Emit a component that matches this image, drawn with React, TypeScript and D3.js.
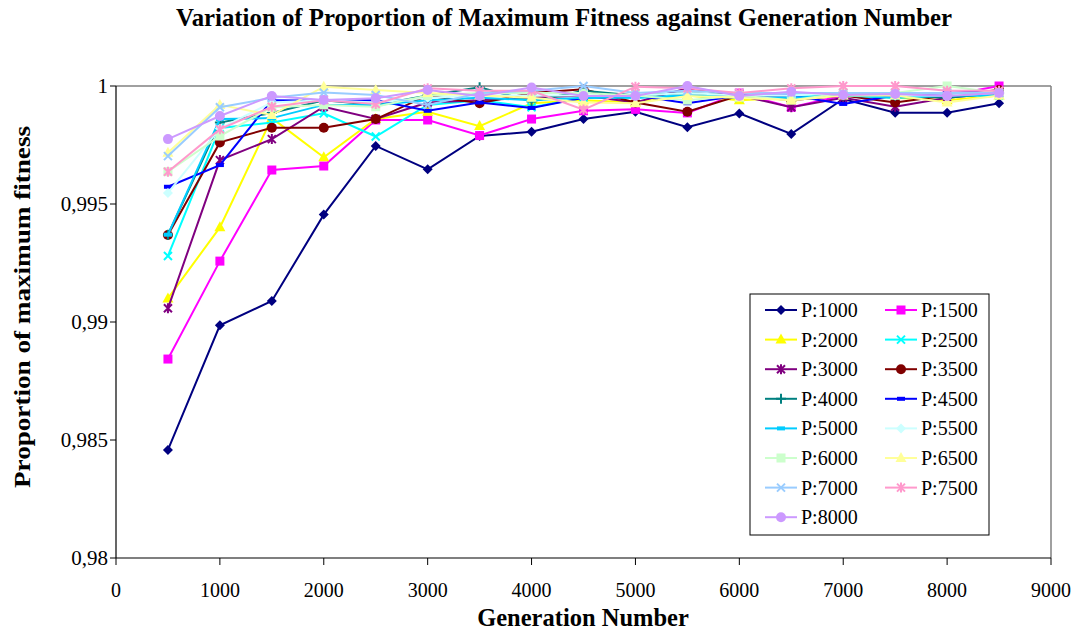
import React from "react";
import * as d3 from "d3";

// Generation numbers sampled for every population size
const generations = [500, 1000, 1500, 2000, 2500, 3000, 3500, 4000, 4500, 5000, 5500, 6000, 6500, 7000, 7500, 8000, 8500];

const seriesNames = ["P:1000", "P:1500", "P:2000", "P:2500", "P:3000", "P:3500", "P:4000", "P:4500", "P:5000", "P:5500", "P:6000", "P:6500", "P:7000", "P:7500", "P:8000"];

const p1000 = [0.98458, 0.98986, 0.99089, 0.99455, 0.99746, 0.99647, 0.99788, 0.99806, 0.9986, 0.99891, 0.99825, 0.99884, 0.99797, 0.99945, 0.99887, 0.99887, 0.99927];
const p1500 = [0.98843, 0.99258, 0.99644, 0.99661, 0.99856, 0.99856, 0.9979, 0.9986, 0.99895, 0.99901, 0.99886, 0.9997, 0.9991, 0.9996, 0.9996, 0.9996, 1.0];
const p2000 = [0.991, 0.99401, 0.99864, 0.99698, 0.9986, 0.99891, 0.9983, 0.99927, 0.9994, 0.9993, 0.9996, 0.9994, 0.9995, 0.9996, 0.9995, 0.9994, 0.9996];
const p2500 = [0.9928, 0.99822, 0.99845, 0.99884, 0.99786, 0.9992, 0.9994, 0.9991, 0.9995, 0.9995, 0.9996, 0.9995, 0.9996, 0.9996, 0.9995, 0.9996, 0.9996];
const p3000 = [0.99058, 0.99686, 0.99775, 0.99912, 0.9986, 0.9993, 0.9994, 0.9995, 0.9996, 0.9993, 0.9999, 0.9996, 0.9991, 0.9995, 0.99912, 0.9995, 0.9997];
const p3500 = [0.99369, 0.99761, 0.99823, 0.99823, 0.9986, 0.9996, 0.99927, 0.9997, 0.99986, 0.9993, 0.99891, 0.9996, 0.9994, 0.9996, 0.9993, 0.9996, 0.99983];
const p4000 = [0.9937, 0.99845, 0.99886, 0.9994, 0.9992, 0.9996, 0.99995, 0.99934, 0.9998, 0.9996, 0.9997, 0.9996, 0.9995, 0.9996, 0.9996, 0.9995, 0.9997];
const p4500 = [0.99573, 0.99665, 0.9994, 0.99938, 0.9994, 0.99895, 0.9993, 0.99907, 0.9995, 0.9996, 0.99927, 0.9996, 0.9996, 0.99924, 0.9996, 0.9997, 0.9998];
const p5000 = [0.9937, 0.9986, 0.99864, 0.9992, 0.9992, 0.9994, 0.9995, 0.9994, 0.9995, 0.9995, 0.9996, 0.9995, 0.9995, 0.9996, 0.9995, 0.9996, 0.9996];
const p5500 = [0.99547, 0.9982, 0.9993, 0.9994, 0.9993, 0.9995, 0.9996, 0.9996, 0.9996, 0.9996, 0.9997, 0.9996, 0.9996, 0.9997, 0.9996, 0.9996, 0.9997];
const p6000 = [0.99637, 0.99788, 0.9991, 0.9992, 0.99912, 0.9996, 0.9997, 0.9997, 0.9997, 0.9996, 0.9994, 0.9996, 0.9994, 0.9997, 0.9997, 1.0, 0.9997];
const p6500 = [0.99717, 0.9992, 0.99877, 0.99997, 0.99983, 0.9997, 0.9996, 0.9995, 0.9993, 0.99927, 0.99958, 0.9995, 0.9994, 0.9996, 0.9996, 0.9993, 0.9996];
const p7000 = [0.99703, 0.9991, 0.9995, 0.99972, 0.99962, 0.9992, 0.9997, 0.9998, 1.0, 0.9997, 0.9998, 0.9997, 0.9997, 0.9997, 0.9997, 0.9997, 0.9997];
const p7500 = [0.99637, 0.99817, 0.99912, 0.9994, 0.99924, 0.9999, 0.9998, 0.9998, 0.999, 0.99997, 0.9999, 0.9997, 0.9999, 1.0, 1.0, 0.9998, 0.9998];
const p8000 = [0.99775, 0.99873, 0.99958, 0.99941, 0.99948, 0.99983, 0.99958, 0.99994, 0.99958, 0.99958, 1.0, 0.99958, 0.99976, 0.99962, 0.99966, 0.99958, 0.9997];

const seriesValues = [p1000, p1500, p2000, p2500, p3000, p3500, p4000, p4500, p5000, p5500, p6000, p6500, p7000, p7500, p8000];

const colors = ["#000080", "#FF00FF", "#FFFF00", "#00FFFF", "#800080", "#800000", "#008080", "#0000FF", "#00CCFF", "#CCFFFF", "#CCFFCC", "#FFFF99", "#99CCFF", "#FF99CC", "#CC99FF"];
const markers = ["diamond", "square", "triangle", "x", "star", "circle", "plus", "dash", "dash", "diamond", "square", "triangle", "x", "star", "circle"];

const xTicks = [0, 1000, 2000, 3000, 4000, 5000, 6000, 7000, 8000, 9000];
const yTicks = [0.98, 0.985, 0.99, 0.995, 1];

const FONT = "'Liberation Serif', 'Times New Roman', serif";

function Marker({ kind, x, y, color }: { kind: string; x: number; y: number; color: string }) {
  switch (kind) {
    case "diamond":
      return <path d={`M${x},${y - 5}L${x + 5},${y}L${x},${y + 5}L${x - 5},${y}Z`} fill={color} />;
    case "square":
      return <rect x={x - 4.5} y={y - 4.5} width={9} height={9} fill={color} />;
    case "triangle":
      return <path d={`M${x},${y - 6}L${x + 5.5},${y + 4}L${x - 5.5},${y + 4}Z`} fill={color} />;
    case "x":
      return (
        <path d={`M${x - 4},${y - 4}L${x + 4},${y + 4}M${x - 4},${y + 4}L${x + 4},${y - 4}`} stroke={color} strokeWidth={2} fill="none" />
      );
    case "star":
      return (
        <path
          d={`M${x - 4},${y - 4}L${x + 4},${y + 4}M${x - 4},${y + 4}L${x + 4},${y - 4}M${x},${y - 5}L${x},${y + 5}`}
          stroke={color}
          strokeWidth={2}
          fill="none"
        />
      );
    case "circle":
      return <circle cx={x} cy={y} r={5} fill={color} />;
    case "plus":
      return <path d={`M${x - 5},${y}L${x + 5},${y}M${x},${y - 5}L${x},${y + 5}`} stroke={color} strokeWidth={2} fill="none" />;
    case "dash":
    default:
      return <rect x={x - 4} y={y - 2} width={8} height={4} fill={color} />;
  }
}

export default function App() {
  const width = 1087;
  const height = 632;
  const left = 116;
  const right = 1051;
  const top = 86;
  const bottom = 558;

  const x = d3.scaleLinear().domain([0, 9000]).range([left, right]);
  const y = d3.scaleLinear().domain([0.98, 1]).range([bottom, top]);

  const line = d3
    .line<number>()
    .x((_, i) => x(generations[i]))
    .y((v) => y(v));

  const fmtY = (v: number) => (v === 1 ? "1" : String(+v.toFixed(3)).replace(".", ","));

  // Legend layout
  const lgX = 750;
  const lgY = 294;
  const lgW = 239;
  const lgH = 241;
  const rowH = 29.6;
  const colW = 120;

  return (
    <svg width={width} height={height} style={{ position: "absolute", left: 0, top: 0, background: "#fff" }} fontFamily={FONT}>
      <rect x={0} y={0} width={width} height={height} fill="#fff" />
      <text x={564} y={26} textAnchor="middle" fontSize={24.5} fontWeight="bold" fill="#000" textLength={776} lengthAdjust="spacingAndGlyphs">
        Variation of Proportion of Maximum Fitness against Generation Number
      </text>

      {/* plot area frame */}
      <line x1={left} y1={top} x2={right} y2={top} stroke="#808080" strokeWidth={1.5} />
      <line x1={right} y1={top} x2={right} y2={bottom} stroke="#808080" strokeWidth={1.5} />

      {/* series */}
      {seriesValues.map((vals, si) => (
        <g key={seriesNames[si]}>
          <path d={line(vals) || ""} fill="none" stroke={colors[si]} strokeWidth={2} />
          {vals.map((v, i) => (
            <Marker key={i} kind={markers[si]} x={x(generations[i])} y={y(v)} color={colors[si]} />
          ))}
        </g>
      ))}

      {/* axes */}
      <line x1={left} y1={top} x2={left} y2={bottom} stroke="#000" strokeWidth={1.2} />
      <line x1={left} y1={bottom} x2={right} y2={bottom} stroke="#000" strokeWidth={1.2} />
      {yTicks.map((t) => (
        <g key={t}>
          <line x1={left - 6} y1={y(t)} x2={left} y2={y(t)} stroke="#000" strokeWidth={1} />
          <text x={left - 8} y={y(t) + 7} textAnchor="end" fontSize={21} fill="#000">
            {fmtY(t)}
          </text>
        </g>
      ))}
      {xTicks.map((t) => (
        <g key={t}>
          <line x1={x(t)} y1={bottom} x2={x(t)} y2={bottom + 7} stroke="#000" strokeWidth={1} />
          <text x={x(t)} y={bottom + 39} textAnchor="middle" fontSize={20} fill="#000">
            {t}
          </text>
        </g>
      ))}
      <text x={583} y={626} textAnchor="middle" fontSize={24.5} fontWeight="bold" fill="#000">
        Generation Number
      </text>
      <text
        transform={`translate(30,${(top + bottom) / 2 - 15}) rotate(-90)`}
        textAnchor="middle"
        fontSize={24}
        fontWeight="bold"
        fill="#000"
        textLength={362}
        lengthAdjust="spacingAndGlyphs"
      >
        Proportion of maximum fitness
      </text>

      {/* legend */}
      <rect x={lgX} y={lgY} width={lgW} height={lgH} fill="#fff" stroke="#000" strokeWidth={1} />
      {seriesNames.map((name, i) => {
        const col = i % 2;
        const row = Math.floor(i / 2);
        const cy = lgY + 16 + row * rowH;
        const lx = lgX + 15 + col * colW;
        return (
          <g key={name}>
            <line x1={lx} y1={cy} x2={lx + 32} y2={cy} stroke={colors[i]} strokeWidth={2} />
            <Marker kind={markers[i]} x={lx + 16} y={cy} color={colors[i]} />
            <text x={lx + 36} y={cy + 7} fontSize={20} fill="#000">
              {name}
            </text>
          </g>
        );
      })}
    </svg>
  );
}
